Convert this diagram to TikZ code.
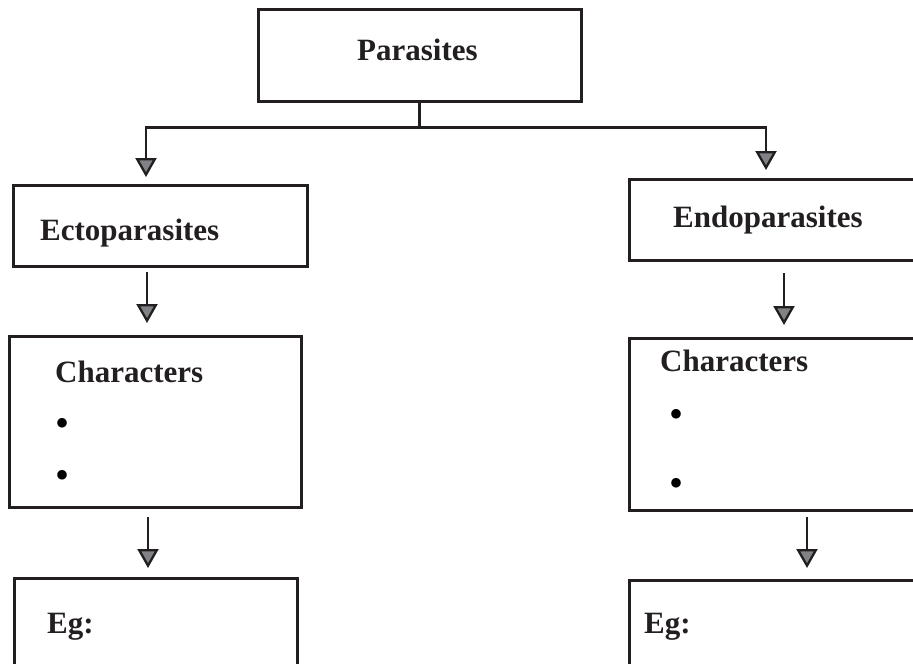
\documentclass[tikz,border=0pt]{standalone}
\usepackage{fontspec}
\setmainfont{Liberation Serif}
\usetikzlibrary{arrows.meta}
\definecolor{ink}{HTML}{231F20}
\definecolor{tipfill}{HTML}{808285}
\begin{document}
\begin{tikzpicture}[x=1pt,y=-1pt,
  box/.style={draw=ink, line width=3pt, rectangle, inner sep=0pt},
  lbl/.style={anchor=base west, inner sep=0pt, text=ink, font=\fontsize{31}{36}\selectfont\bfseries},
  bul/.style={inner sep=0pt, text=black, font=\fontsize{40}{44}\selectfont},
  arr/.style={draw=ink, line width=2.3pt, -{Triangle[width=21pt,length=19pt,fill=tipfill]}}]
\useasboundingbox (0,0) rectangle (913,664);
\clip (0,0) rectangle (913,664);
% boxes
\node[box, minimum width=323pt, minimum height=92pt] (par) at (419.5,55) {};
\node[box, minimum width=294pt, minimum height=81pt] (ecto) at (160,225.5) {};
\node[box, minimum width=331pt, minimum height=81pt] (endo) at (794.5,219.5) {};
\node[box, minimum width=292pt, minimum height=171pt] (charL) at (155,421.5) {};
\node[box, minimum width=331pt, minimum height=172pt] (charR) at (794.5,424) {};
\node[box, minimum width=283pt, minimum height=122pt] (egL) at (155.5,639) {};
\node[box, minimum width=331pt, minimum height=122pt] (egR) at (794.5,641) {};
% texts
\node[lbl] (tpar) at (357,60) {Parasites};
\node[lbl] (tecto) at (40,240) {Ectoparasites};
\node[lbl] (tendo) at (673,227) {Endoparasites};
\node[lbl] (tcharL) at (55,382) {Characters};
\node[lbl] (tcharR) at (660,371) {Characters};
\node[lbl] (tegL) at (47,633) {Eg:};
\node[lbl] (tegR) at (644,633) {Eg:};
\node[bul] (b1) at (63,427) {•};
\node[bul] (b2) at (63,479) {•};
\node[bul] (b3) at (676,418) {•};
\node[bul] (b4) at (676,487) {•};
% connector end points
\coordinate (ectoin) at (146,177);
\coordinate (endoin) at (766,170);
\coordinate (a1s) at (147,272);
\coordinate (a1e) at (147,323);
\coordinate (a2s) at (148,517);
\coordinate (a2e) at (148,568);
\coordinate (a3s) at (784,273);
\coordinate (a3e) at (784,325);
\coordinate (a4s) at (807,517);
\coordinate (a4e) at (807,568);
% connectors
\draw[arr] (par.south) -- ++(0,25) -| (ectoin);
\draw[arr] (par.south) -- ++(0,25) -| (endoin);
\draw[arr] (a1s) -- (a1e);
\draw[arr] (a2s) -- (a2e);
\draw[arr] (a3s) -- (a3e);
\draw[arr] (a4s) -- (a4e);
\end{tikzpicture}
\end{document}
